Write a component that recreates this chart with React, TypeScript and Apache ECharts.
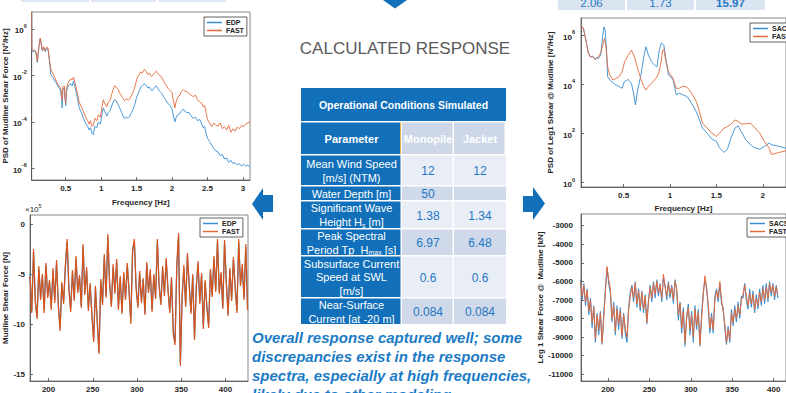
import React, { useEffect, useRef } from "react";
import * as echarts from "echarts";

const FONT = "'Liberation Sans', Arial, Helvetica, sans-serif";
const BLUE = "#3a8dd0";
const ORANGE = "#e46a3c";
const NAVY = "#1170b9";

// ---------- Top-left PSD (log10 of N^2/Hz) ----------
const edpPsdLog10: [number, number][] = [
  [0.02,0.7],[0.022,-0.9],[0.04,-1.0],[0.06,-0.95],[0.08,-1.05],[0.10,-1.45],[0.12,-0.85],[0.14,-0.42],[0.16,-0.75],[0.17,-0.95],
  [0.19,-0.82],[0.21,-0.98],[0.23,-0.85],[0.25,-0.88],[0.27,-1.4],[0.29,-1.95],[0.31,-2.05],[0.34,-2.2],[0.36,-2.3],[0.38,-2.4],
  [0.40,-2.55],[0.42,-2.6],[0.44,-2.9],[0.45,-3.4],[0.46,-2.6],[0.48,-2.55],[0.49,-3.0],[0.50,-3.3],[0.51,-2.7],[0.53,-2.5],
  [0.55,-2.4],[0.57,-2.35],[0.59,-2.45],[0.61,-2.25],[0.63,-2.5],[0.65,-2.75],[0.67,-3.05],[0.69,-3.4],[0.72,-3.6],[0.75,-3.85],
  [0.78,-4.05],[0.81,-4.2],[0.83,-4.35],[0.85,-4.25],[0.87,-4.5],[0.89,-4.55],[0.91,-4.2],[0.94,-4.25],[0.96,-4.0],[0.99,-4.1],
  [1.01,-3.7],[1.03,-3.4],[1.05,-3.55],[1.08,-3.75],[1.10,-3.6],[1.13,-3.5],[1.15,-3.3],[1.17,-3.15],[1.19,-3.05],[1.21,-3.1],
  [1.24,-3.25],[1.26,-3.4],[1.29,-3.6],[1.31,-3.75],[1.33,-3.85],[1.36,-3.8],[1.38,-3.85],[1.40,-3.78],[1.43,-3.6],[1.46,-3.4],
  [1.48,-3.2],[1.50,-2.95],[1.52,-2.8],[1.54,-2.65],[1.56,-2.5],[1.58,-2.45],[1.61,-2.35],[1.63,-2.42],[1.66,-2.55],[1.68,-2.5],
  [1.71,-2.65],[1.73,-2.62],[1.76,-2.5],[1.78,-2.45],[1.80,-2.58],[1.83,-2.7],[1.86,-2.8],[1.88,-2.92],[1.91,-3.05],[1.94,-3.2],
  [1.97,-3.3],[2.00,-3.45],[2.02,-3.75],[2.04,-4.0],[2.06,-3.8],[2.08,-3.7],[2.11,-3.65],[2.13,-3.55],[2.16,-3.45],[2.18,-3.55],
  [2.21,-3.6],[2.24,-3.6],[2.27,-3.75],[2.30,-3.85],[2.33,-3.8],[2.36,-3.95],[2.39,-3.9],[2.42,-4.1],[2.44,-4.25],[2.46,-4.2],
  [2.48,-4.5],[2.50,-4.7],[2.53,-4.85],[2.56,-5.0],[2.59,-5.15],[2.62,-5.25],[2.65,-5.3],[2.68,-5.45],[2.71,-5.4],[2.74,-5.6],
  [2.77,-5.55],[2.80,-5.75],[2.83,-5.65],[2.86,-5.8],[2.89,-5.75],[2.92,-5.85],[2.95,-5.8],[2.98,-5.9],[3.01,-5.82],[3.04,-5.9],
  [3.07,-5.85],[3.10,-5.95],
];
const fastPsdLog10: [number, number][] = [
  [0.02,0.72],[0.022,-0.85],[0.04,-0.95],[0.06,-0.9],[0.08,-1.0],[0.10,-1.4],[0.12,-0.8],[0.14,-0.4],[0.16,-0.7],[0.17,-0.92],
  [0.19,-0.78],[0.21,-0.95],[0.23,-0.8],[0.25,-0.82],[0.27,-1.3],[0.29,-1.75],[0.31,-1.85],[0.34,-2.05],[0.36,-2.2],[0.38,-2.32],
  [0.40,-2.45],[0.42,-2.5],[0.44,-2.7],[0.45,-3.05],[0.46,-2.5],[0.48,-2.45],[0.49,-2.9],[0.50,-3.2],[0.51,-2.6],[0.53,-2.35],
  [0.55,-2.25],[0.57,-2.15],[0.59,-2.2],[0.61,-2.08],[0.63,-2.3],[0.65,-2.55],[0.67,-2.85],[0.69,-3.15],[0.72,-3.35],[0.75,-3.55],
  [0.78,-3.8],[0.81,-3.95],[0.83,-4.1],[0.85,-3.95],[0.87,-4.2],[0.89,-4.15],[0.91,-3.85],[0.94,-3.95],[0.96,-3.7],[0.99,-3.8],
  [1.01,-3.4],[1.03,-3.05],[1.05,-3.2],[1.08,-3.35],[1.10,-3.15],[1.13,-3.05],[1.15,-2.8],[1.17,-2.6],[1.19,-2.45],[1.21,-2.5],
  [1.24,-2.6],[1.26,-2.75],[1.29,-2.9],[1.31,-3.0],[1.33,-3.1],[1.36,-3.0],[1.38,-3.08],[1.40,-3.02],[1.43,-2.85],[1.46,-2.65],
  [1.48,-2.45],[1.50,-2.2],[1.52,-2.05],[1.54,-1.95],[1.56,-1.85],[1.58,-1.9],[1.61,-1.75],[1.63,-1.82],[1.66,-1.97],[1.68,-1.9],
  [1.71,-2.05],[1.73,-2.0],[1.76,-1.88],[1.78,-1.82],[1.80,-1.92],[1.83,-2.02],[1.86,-2.1],[1.88,-2.25],[1.91,-2.4],[1.94,-2.55],
  [1.97,-2.65],[2.00,-2.75],[2.02,-3.1],[2.04,-3.4],[2.06,-3.1],[2.08,-2.95],[2.11,-2.85],[2.13,-2.7],[2.16,-2.62],[2.18,-2.68],
  [2.21,-2.7],[2.24,-2.78],[2.27,-2.85],[2.30,-2.92],[2.33,-2.85],[2.36,-3.05],[2.39,-3.15],[2.42,-3.2],[2.44,-3.35],[2.46,-3.3],
  [2.48,-3.6],[2.50,-3.9],[2.53,-4.05],[2.56,-4.2],[2.59,-4.05],[2.62,-4.15],[2.65,-4.18],[2.68,-4.05],[2.71,-4.3],[2.74,-4.2],
  [2.77,-4.35],[2.80,-4.15],[2.83,-4.45],[2.86,-4.3],[2.89,-4.4],[2.92,-4.22],[2.95,-4.3],[2.98,-4.15],[3.01,-4.2],[3.04,-4.1],
  [3.07,-4.05],[3.10,-4.0],
];

// ---------- Bottom-left time series (x10^5 N) ----------
const leftTimeStart = 179;
const leftTimeStep = 2;
const edpShearE5 = [
  -5.0,-8.7,-2.8,-7.6,-9.3,-4.5,-7.4,-5.2,-8.6,-4.1,
  -7.2,-5.8,-8.3,-4.7,-7.6,-3.9,-8.0,-10.4,-6.0,-7.8,
  -4.4,-1.8,-6.4,-8.5,-4.9,-7.5,-3.5,-6.7,-5.3,-8.2,
  -2.3,-6.9,-4.6,-8.4,-6.1,-9.0,-11.5,-6.4,-9.6,-12.8,
  -5.7,-7.9,-3.3,-7.2,-1.3,-6.0,-8.1,-4.3,-6.8,-3.8,
  -8.3,-5.4,-8.8,-5.0,-7.4,-4.2,-6.6,-9.7,-2.8,-1.8,
  -6.3,-8.2,-4.9,-7.7,-5.6,-8.9,-4.0,-6.7,-4.8,-8.6,
  -5.2,-7.3,-1.8,-6.1,-7.9,-4.5,-7.0,-3.7,-6.4,-8.7,
  -5.5,-10.7,-11.8,-4.3,-1.2,-13.9,-7.2,-4.4,-8.1,-3.2,
  -6.0,-8.8,-5.2,-11.3,-6.2,-4.0,-7.8,-5.1,-10.2,-5.8,
  -8.2,-10.1,-4.7,-7.1,-3.5,-6.6,-1.8,-6.8,-5.0,-8.3,
  -1.9,-5.8,-9.0,-4.6,-7.5,-3.6,-6.2,-8.7,-1.8,-6.0,
  -4.3,-7.4,-2.3,-8.4,
];
const fastShearE5 = [
  -5.2,-8.9,-2.5,-7.8,-9.5,-4.2,-7.6,-5.0,-8.9,-3.9,
  -7.4,-5.6,-8.6,-4.4,-7.9,-3.6,-8.2,-10.7,-5.8,-8.0,
  -4.1,-1.5,-6.6,-8.8,-4.6,-7.7,-3.2,-6.9,-5.1,-8.4,
  -2.0,-7.1,-4.3,-8.7,-5.9,-9.2,-11.8,-6.2,-9.8,-13.0,
  -5.5,-8.1,-3.0,-7.4,-1.0,-5.8,-8.3,-4.0,-7.0,-3.5,
  -8.6,-5.2,-9.0,-4.8,-7.6,-3.9,-6.8,-10.0,-2.5,-1.5,
  -6.5,-8.4,-4.7,-7.9,-5.4,-9.1,-3.8,-6.9,-4.5,-8.8,
  -5.0,-7.5,-1.5,-6.3,-8.1,-4.2,-7.2,-3.4,-6.6,-8.9,
  -5.3,-11.0,-12.1,-4.0,-0.9,-14.2,-7.4,-4.1,-8.3,-2.9,
  -6.2,-9.0,-5.0,-11.6,-6.4,-3.7,-8.0,-4.9,-10.5,-5.6,
  -8.4,-10.4,-4.5,-7.3,-3.2,-6.8,-1.5,-7.0,-4.8,-8.5,
  -1.6,-6.0,-9.2,-4.4,-7.7,-3.3,-6.4,-8.9,-1.5,-6.2,
  -4.0,-7.6,-2.0,-8.6,
];

// ---------- Top-right PSD (log10 of N^2/Hz) ----------
const sacsPsdLog10: [number, number][] = [
  [0.04,6.4],[0.067,6.27],[0.093,5.8],[0.117,5.32],[0.14,5.12],[0.167,5.15],[0.193,5.01],[0.21,5.1],[0.227,5.05],[0.253,5.19],
  [0.273,5.93],[0.287,6.34],[0.3,6.2],[0.312,5.6],[0.327,4.31],[0.35,4.2],[0.367,4.11],[0.39,4.05],[0.417,3.97],[0.45,3.91],
  [0.483,3.84],[0.507,4.11],[0.53,4.15],[0.55,4.2],[0.583,4.04],[0.607,3.64],[0.627,3.16],[0.65,3.77],[0.683,4.31],[0.717,5.12],
  [0.74,5.53],[0.767,5.19],[0.8,4.92],[0.833,4.78],[0.86,4.72],[0.883,5.39],[0.907,5.69],[0.933,5.59],[0.96,4.92],[0.983,4.38],
  [1.01,4.3],[1.033,4.18],[1.067,3.57],[1.1,3.64],[1.14,3.57],[1.183,3.5],[1.233,3.23],[1.283,2.89],[1.317,2.55],[1.35,2.22],
  [1.4,2.01],[1.45,1.77],[1.5,1.68],[1.533,1.41],[1.583,1.23],[1.617,1.34],[1.65,1.74],[1.7,2.22],[1.733,2.31],[1.767,2.08],
  [1.817,1.74],[1.867,1.54],[1.917,1.41],[1.967,1.36],[2.017,1.47],[2.067,1.61],[2.093,1.54],[2.15,1.5],[2.2,1.45],[2.25,1.4],
];
const fastRightPsdLog10: [number, number][] = [
  [0.04,6.4],[0.067,6.25],[0.093,5.8],[0.117,5.3],[0.14,5.12],[0.167,5.12],[0.193,5.02],[0.227,5.1],[0.253,5.3],[0.28,5.66],
  [0.293,5.86],[0.31,5.53],[0.327,4.72],[0.35,4.38],[0.383,4.18],[0.42,4.24],[0.45,4.31],[0.483,4.51],[0.51,4.92],[0.55,5.19],
  [0.583,5.39],[0.6,5.26],[0.617,5.12],[0.65,4.65],[0.683,4.24],[0.717,3.91],[0.74,3.77],[0.767,3.91],[0.8,4.04],[0.833,4.18],
  [0.86,4.31],[0.883,4.51],[0.907,4.99],[0.92,5.39],[0.933,5.42],[0.96,4.85],[0.983,4.51],[1.033,4.24],[1.067,3.84],[1.1,3.84],
  [1.14,3.93],[1.183,3.88],[1.233,3.64],[1.283,3.3],[1.317,2.89],[1.35,2.42],[1.4,2.22],[1.45,2.01],[1.5,1.88],[1.533,2.01],
  [1.583,2.22],[1.617,2.28],[1.65,2.35],[1.7,2.55],[1.733,2.49],[1.767,2.39],[1.817,2.39],[1.867,2.42],[1.917,2.22],[1.967,2.01],
  [2.017,1.68],[2.067,1.41],[2.093,1.14],[2.15,1.2],[2.2,1.25],[2.25,1.3],
];

// ---------- Bottom-right time series (kN) ----------
const rightTimeStart = 167;
const rightTimeStep = 2;
const sacsLegShearKN = [
  -5900,-7000,-6100,-7300,-6400,-7800,-6900,-8500,-7300,-9300,
  -7700,-8900,-7600,-9400,-7800,-6400,-5300,-6100,-6600,-8200,
  -7100,-8900,-7300,-8600,-7400,-9100,-7700,-8800,-9300,-7400,
  -6600,-6200,-7100,-6000,-7400,-6400,-7600,-6500,-7700,-6700,
  -8300,-7000,-6200,-7100,-6000,-6900,-5900,-6800,-6100,-7100,
  -5800,-6200,-7000,-6000,-6900,-6200,-7200,-5900,-6500,-8100,
  -7100,-8800,-7400,-9500,-7900,-7200,-8900,-7600,-9300,-7300,
  -8600,-7500,-9500,-7800,-6600,-5900,-6300,-7400,-8800,-7700,
  -8800,-6800,-6400,-7100,-6100,-7200,-7400,-8500,-9400,-8400,
  -9300,-7500,-8400,-7300,-8200,-7100,-8000,-6800,-6900,-6100,
  -7000,-7500,-6400,-7400,-6500,-7700,-6700,-7500,-6400,-7300,
  -6200,-7200,-6100,-7100,-6000,-6800,-6100,-7000,-6200,-6900,
];
const fastLegShearKN = [
  -6000,-6800,-6200,-7100,-6500,-7600,-7000,-8200,-7400,-9100,
  -7800,-8600,-7700,-9300,-8000,-6600,-5200,-5900,-6400,-8000,
  -7300,-8700,-7500,-8300,-7600,-8900,-7800,-8500,-9000,-7600,
  -6800,-6300,-6900,-6100,-7200,-6500,-7400,-6600,-7500,-6800,
  -8200,-7100,-6300,-6900,-6100,-6700,-6000,-6600,-6200,-6900,
  -5600,-6300,-6800,-6100,-6700,-6300,-7000,-6000,-6400,-7800,
  -7200,-8500,-7600,-9300,-8000,-7400,-8600,-7800,-9000,-7500,
  -8400,-7700,-9400,-8000,-6800,-5700,-6400,-7200,-8500,-7900,
  -8600,-7000,-6500,-6900,-6000,-7000,-7600,-8300,-9300,-8600,
  -9100,-7700,-8200,-7500,-8000,-7300,-7800,-7000,-6700,-6200,
  -6800,-7300,-6600,-7200,-6700,-7500,-6900,-7300,-6600,-7100,
  -6400,-7000,-6300,-6900,-6100,-6600,-6200,-6800,-6300,-6700,
];

// ---------- Tick values ----------
const freqTicksLeft = [0.5, 1, 1.5, 2, 2.5, 3];
const freqTicksRight = [0.5, 1, 1.5, 2];
const timeTicks = [200, 250, 300, 350, 400];
const psdLeftDecades = [-6, -4, -2, 0];
const psdRightDecades = [0, 2, 4, 6];
const shearLeftTicks = [0, -5, -10, -15];
const shearRightTicks = [-3000, -4000, -5000, -6000, -7000, -8000, -9000, -10000, -11000];

// ---------- Table ----------
const tableTitle = "Operational Conditions Simulated";
const tableHeaders = ["Parameter", "Monopile", "Jacket"];
const paramLabels = [
  "Mean Wind Speed\n[m/s] (NTM)",
  "Water Depth [m]",
  "Significant Wave\nHeight H{sub|s} [m]",
  "Peak Spectral\nPeriod Tp_H{sub|max} [s]",
  "Subsurface Current\nSpeed at SWL\n[m/s]",
  "Near-Surface\nCurrent [at -20 m]",
];
const monopileValues = ["12", "50", "1.38", "6.97", "0.6", "0.084"];
const jacketValues = ["12", "", "1.34", "6.48", "0.6", "0.084"];
const topStripValues = ["2.06", "1.73", "15.97"];

const headline = "CALCULATED RESPONSE";
const noteLines = [
  "Overall response captured well; some",
  "discrepancies exist in the response",
  "spectra, especially at high frequencies,",
  "likely due to other modeling",
];

const tickText = { fontFamily: FONT, fontSize: 8, fontWeight: "bold" as const, color: "#262626" };

function xAxisDef(gi: number, min: number, max: number, ticks: number[], name = "", gap = 15) {
  return {
    type: "value", gridIndex: gi, min, max,
    name, nameLocation: "middle", nameGap: gap,
    nameTextStyle: { ...tickText },
    axisLine: { show: true, onZero: false, lineStyle: { color: "#4a4a4a", width: 0.8 } },
    axisTick: { show: true, inside: true, length: 3, customValues: ticks, lineStyle: { color: "#4a4a4a", width: 0.8 } },
    axisLabel: { show: true, customValues: ticks, margin: 4, ...tickText, formatter: (v: number) => String(v) },
    splitLine: { show: false },
  };
}

function yAxisDef(gi: number, min: number, max: number, ticks: number[], name: string, gap: number, margin: number, log: boolean) {
  return {
    type: "value", gridIndex: gi, min, max,
    name, nameLocation: "middle", nameGap: gap, nameRotate: 90,
    nameTextStyle: { ...tickText },
    axisLine: { show: true, onZero: false, lineStyle: { color: "#4a4a4a", width: 0.8 } },
    axisTick: { show: true, inside: true, length: 3, customValues: ticks, lineStyle: { color: "#4a4a4a", width: 0.8 } },
    axisLabel: {
      show: true, customValues: ticks, margin, ...tickText,
      formatter: log ? (v: number) => `{b|10}{s|${Math.round(v)}}` : (v: number) => String(v),
      rich: log
        ? {
            b: { ...tickText, lineHeight: 12, verticalAlign: "bottom" },
            s: { ...tickText, fontSize: 5.5, lineHeight: 12, verticalAlign: "top" },
          }
        : undefined,
    },
    splitLine: { show: false },
  };
}

function legendDef(left: number, top: number, names: string[]) {
  return {
    left, top, orient: "vertical", data: names, selectedMode: false,
    backgroundColor: "#ffffff", borderColor: "#3a3a3a", borderWidth: 0.8, borderRadius: 0,
    padding: [2, 3, 2, 3], itemGap: 1, itemWidth: 15, itemHeight: 1.5,
    icon: "rect", textStyle: { fontFamily: FONT, fontSize: 7, fontWeight: "bold", color: "#222", padding: [0, 0, 0, -1] },
  };
}

function lineSeries(name: string, xi: number, data: number[][], color: string, width: number) {
  return {
    type: "line", name, xAxisIndex: xi, yAxisIndex: xi, data, showSymbol: false, symbol: "none",
    lineStyle: { color, width }, itemStyle: { color }, silent: true, clip: true,
  };
}

function buildGraphics() {
  const g: any[] = [];
  // top strips (partial table rows cut by the frame)
  [[21, 68], [91, 65], [159, 67]].forEach(([x, w]) =>
    g.push({ type: "rect", shape: { x, y: 0, width: w, height: 2 }, style: { fill: "#dde6f2" } })
  );
  const rightCells = [[558, 67], [627, 67], [696, 69]];
  rightCells.forEach(([x, w], i) => {
    g.push({ type: "rect", shape: { x, y: 0, width: w, height: 10 }, style: { fill: "#dbe4f1" } });
    g.push({
      type: "text", x: x + w / 2, y: 3,
      style: { text: topStripValues[i], fill: "#1f77c4", fontFamily: FONT, fontSize: 11.5, fontWeight: i === 2 ? "bold" : "normal", align: "center", verticalAlign: "middle" },
    });
  });
  // down arrow
  g.push({ type: "polygon", shape: { points: [[383, 0], [407, 0], [395, 8.5]] }, style: { fill: NAVY } });
  // left arrow
  g.push({ type: "polygon", shape: { points: [[252, 204], [263, 188], [263, 195], [273, 195], [273, 212], [263, 212], [263, 220]] }, style: { fill: NAVY } });
  // right arrow
  g.push({ type: "polygon", shape: { points: [[523, 196], [533, 196], [533, 187], [545, 203.5], [533, 220], [533, 212], [523, 212]] }, style: { fill: NAVY } });
  // headline
  g.push({
    type: "text", x: 405, y: 48,
    style: { text: headline, fill: "#5a5a5a", fontFamily: FONT, fontSize: 17, align: "center", verticalAlign: "middle" },
  });

  // table
  const colX = [301, 402, 454, 506];
  g.push({ type: "rect", shape: { x: 301, y: 88, width: 205, height: 33 }, style: { fill: NAVY } });
  g.push({
    type: "text", x: 403.5, y: 104.5,
    style: { text: tableTitle, fill: "#fff", fontFamily: FONT, fontSize: 10.5, fontWeight: "bold", align: "center", verticalAlign: "middle" },
  });
  const headFill = [NAVY, "#cdd7e8", "#cdd7e8"];
  for (let c = 0; c < 3; c++) {
    g.push({ type: "rect", shape: { x: colX[c], y: 122.5, width: colX[c + 1] - colX[c] - 1.5, height: 31.5 }, style: { fill: headFill[c] } });
    g.push({
      type: "text", x: (colX[c] + colX[c + 1]) / 2, y: 138.5,
      style: { text: tableHeaders[c], fill: "#fff", fontFamily: FONT, fontSize: 11, fontWeight: "bold", align: "center", verticalAlign: "middle" },
    });
  }
  g.push({ type: "rect", shape: { x: 400, y: 122.5, width: 1, height: 31.5 }, style: { fill: "#e3b04a" } });
  const rowBands = [[155.5, 185], [186.5, 200], [201.5, 228], [229.5, 255], [256.5, 297], [298.5, 324]];
  rowBands.forEach(([y0, y1], r) => {
    const h = y1 - y0;
    const cy = (y0 + y1) / 2;
    const valueFill = r % 2 === 0 ? "#e8edf6" : "#cfd9ea";
    g.push({ type: "rect", shape: { x: colX[0], y: y0, width: colX[1] - colX[0] - 1.5, height: h }, style: { fill: NAVY } });
    g.push({ type: "rect", shape: { x: colX[1], y: y0, width: colX[2] - colX[1] - 1.5, height: h }, style: { fill: valueFill } });
    g.push({ type: "rect", shape: { x: colX[2], y: y0, width: colX[3] - colX[2], height: h }, style: { fill: valueFill } });
    g.push({
      type: "text", x: (colX[0] + colX[1]) / 2, y: cy + 0.5,
      style: {
        text: paramLabels[r], fill: "#fff", fontFamily: FONT, fontSize: 11, lineHeight: 13.7, align: "center", verticalAlign: "middle",
        rich: { sub: { fill: "#fff", fontFamily: FONT, fontSize: 7, lineHeight: 13.7, verticalAlign: "bottom", padding: [6, 0, 0, 0] } },
      },
    });
    [monopileValues[r], jacketValues[r]].forEach((val, k) => {
      if (!val) return;
      g.push({
        type: "text", x: (colX[1 + k] + colX[2 + k]) / 2, y: cy + 1,
        style: { text: val, fill: "#1f77c4", fontFamily: FONT, fontSize: 12, align: "center", verticalAlign: "middle" },
      });
    });
  });

  // note text
  noteLines.forEach((line, i) => {
    g.push({
      type: "text", x: 252, y: 337 + i * 19,
      style: { text: line, fill: "#1b7bc6", fontFamily: FONT, fontSize: 15, fontWeight: "bold", fontStyle: "italic", align: "left", verticalAlign: "middle" },
    });
  });

  // x10^5 multiplier
  g.push({
    type: "text", x: 25, y: 209,
    style: {
      text: "\u00d710{s|5}", fill: "#262626", fontFamily: FONT, fontSize: 8, align: "left", verticalAlign: "middle",
      rich: { s: { fill: "#262626", fontFamily: FONT, fontSize: 5.5, verticalAlign: "top", lineHeight: 12 } },
    },
  });
  return g;
}

export default function App() {
  const ref = useRef<HTMLDivElement>(null);
  useEffect(() => {
    if (!ref.current) return;
    const chart = echarts.init(ref.current, undefined, { renderer: "svg", width: 786, height: 393 });
    const leftEdp = edpShearE5.map((v, i) => [leftTimeStart + i * leftTimeStep, v]);
    const leftFast = fastShearE5.map((v, i) => [leftTimeStart + i * leftTimeStep, v]);
    const rightSacs = sacsLegShearKN.map((v, i) => [rightTimeStart + i * rightTimeStep, v]);
    const rightFast = fastLegShearKN.map((v, i) => [rightTimeStart + i * rightTimeStep, v]);

    chart.setOption({
      animation: false,
      backgroundColor: "#ffffff",
      textStyle: { fontFamily: FONT },
      grid: [
        { left: 27, top: 12, width: 223, height: 168, show: true, borderColor: "#6a6a6a", borderWidth: 0.8, backgroundColor: "#fff" },
        { left: 26, top: 215, width: 222, height: 171, show: true, borderColor: "#6a6a6a", borderWidth: 0.8, backgroundColor: "#fff" },
        { left: 581, top: 18, width: 221, height: 169, show: true, borderColor: "#6a6a6a", borderWidth: 0.8, backgroundColor: "#fff" },
        { left: 581, top: 214, width: 221, height: 167, show: true, borderColor: "#6a6a6a", borderWidth: 0.8, backgroundColor: "#fff" },
      ],
      xAxis: [
        xAxisDef(0, 0.02, 3.1, freqTicksLeft, "Frequency [Hz]", 18),
        xAxisDef(1, 179, 425.5, timeTicks),
        xAxisDef(2, 0.04, 2.25, freqTicksRight, "Frequency [Hz]", 17),
        xAxisDef(3, 167.6, 414.8, timeTicks),
      ],
      yAxis: [
        yAxisDef(0, -6.5, 0.72, psdLeftDecades, "PSD of Mudline Shear Force [N\u00b2/Hz]", 22, 5, true),
        yAxisDef(1, -15.7, 0.9, shearLeftTicks, "Mudline Shear Force [N]", 21, 5, false),
        yAxisDef(2, -0.18, 6.7, psdRightDecades, "PSD of Leg1 Shear @ Mudline [N\u00b2/Hz]", 27, 6, true),
        yAxisDef(3, -11360, -2370, shearRightTicks, "Leg 1 Shear Force @  Mudline [kN]", 33, 8, false),
      ],
      legend: [
        legendDef(204, 17, ["EDP", "FAST"]),
        legendDef(200, 218, ["EDP", "FAST"]),
        legendDef(750, 23, ["SACS", "FAST"]),
        legendDef(747, 218, ["SACS", "FAST"]),
      ],
      series: [
        lineSeries("EDP", 0, edpPsdLog10, BLUE, 0.9),
        lineSeries("FAST", 0, fastPsdLog10, ORANGE, 0.9),
        lineSeries("EDP", 1, leftEdp, BLUE, 1.3),
        lineSeries("FAST", 1, leftFast, "#d95319", 1.2),
        lineSeries("SACS", 2, sacsPsdLog10, BLUE, 0.9),
        lineSeries("FAST", 2, fastRightPsdLog10, ORANGE, 0.9),
        lineSeries("SACS", 3, rightSacs, BLUE, 1.1),
        lineSeries("FAST", 3, rightFast, ORANGE, 1.0),
      ],
      graphic: buildGraphics(),
    });
    return () => chart.dispose();
  }, []);
  return <div ref={ref} style={{ position: "absolute", left: 0, top: 0, width: 786, height: 393, overflow: "hidden" }} />;
}
